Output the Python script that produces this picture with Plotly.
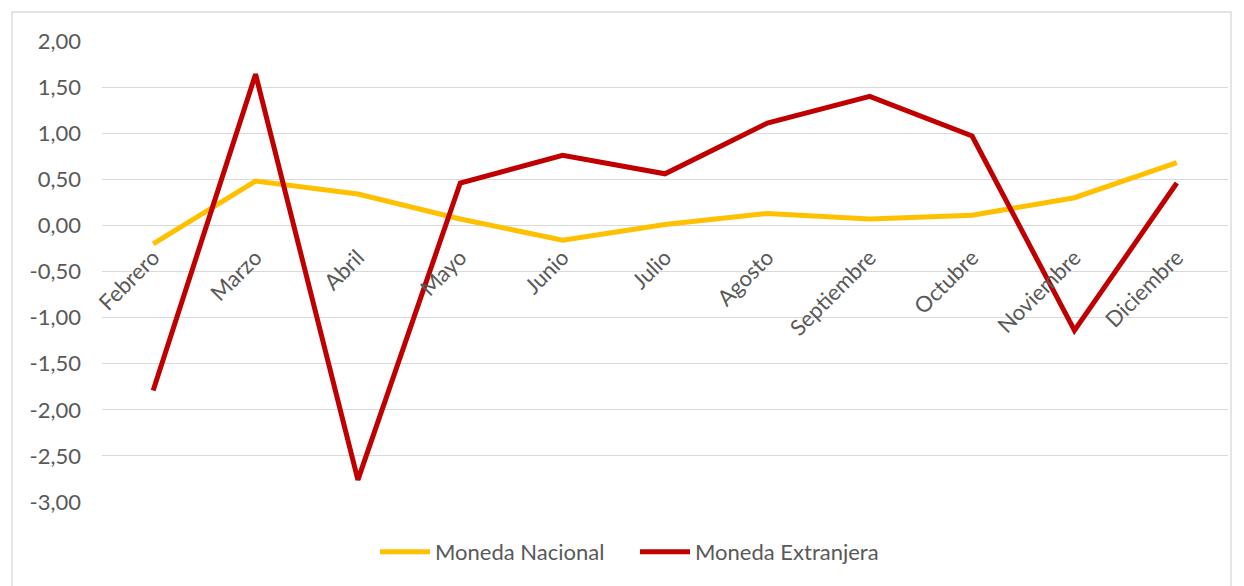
import plotly.graph_objects as go

meses = ["Febrero", "Marzo", "Abril", "Mayo", "Junio", "Julio", "Agosto",
         "Septiembre", "Octubre", "Noviembre", "Diciembre"]
moneda_nacional = [-0.20, 0.48, 0.34, 0.07, -0.16, 0.01, 0.13, 0.07, 0.11, 0.30, 0.68]
moneda_extranjera = [-1.79, 1.64, -2.76, 0.46, 0.76, 0.56, 1.11, 1.40, 0.97, -1.14, 0.46]
y_ticks = [2.0, 1.5, 1.0, 0.5, 0.0, -0.5, -1.0, -1.5, -2.0, -2.5, -3.0]
y_tick_labels = ["2,00", "1,50", "1,00", "0,50", "0,00", "-0,50", "-1,00", "-1,50", "-2,00", "-2,50", "-3,00"]

FONT = "Lato, Carlito, Calibri, sans-serif"
GRAY = "#595959"
FS = 22
y_min, y_max = -3.0, 2.0

# page body has an 8px margin -> figure origin sits at (8, 8) in the screenshot
W, H = 1236, 578
L, T, R, B = 94, 33, 16, 84
pw, ph = W - L - R, H - T - B

fig = go.Figure()
fig.add_trace(go.Scatter(x=meses, y=moneda_nacional, mode="lines", name="Moneda Nacional",
                         line=dict(color="#FFC000", width=5)))
fig.add_trace(go.Scatter(x=meses, y=moneda_extranjera, mode="lines", name="Moneda Extranjera",
                         line=dict(color="#C00000", width=5)))

fig.update_layout(
    width=W, height=H,
    margin=dict(l=L, r=R, t=T, b=B),
    paper_bgcolor="white", plot_bgcolor="white",
    font=dict(family=FONT, size=FS, color=GRAY),
    xaxis=dict(type="category", showgrid=False, showline=False, zeroline=False,
               anchor="free", position=(0 - y_min) / (y_max - y_min),
               tickangle=-45, ticks="", tickfont=dict(size=FS, color=GRAY),
               ticklabelstandoff=14,
               range=[-0.5, len(meses) - 0.5]),
    yaxis=dict(range=[y_min, y_max], tickvals=y_ticks, ticktext=y_tick_labels,
               showgrid=True, gridcolor="#D9D9D9", gridwidth=1.3,
               zeroline=False, showline=False, ticks="", ticklabelstandoff=20,
               tickfont=dict(size=FS, color=GRAY)),
    legend=dict(orientation="h", x=0.5 - 30 / pw, xanchor="center", y=-(552 - 8 - (T + ph)) / ph,
                yanchor="middle", font=dict(size=FS, color=GRAY),
                itemwidth=50, entrywidth=195, entrywidthmode="pixels"),
    showlegend=True,
    shapes=[dict(type="rect", xref="paper", yref="paper",
                 x0=(12 - 8 - L) / pw, x1=(1231 - 8 - L) / pw,
                 y0=-0.25, y1=(T + ph - 4) / ph,
                 line=dict(color="#D9D9D9", width=1.3), fillcolor="rgba(0,0,0,0)", layer="below")],
)

fig.write_html("out.html")
